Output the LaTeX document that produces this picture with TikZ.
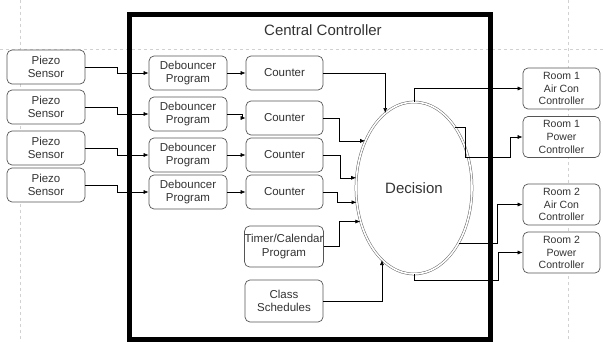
\documentclass[tikz,border=0pt]{standalone}
\usepackage{fontspec}
\setmainfont{Liberation Sans}
\usetikzlibrary{arrows.meta,shapes.geometric}
\definecolor{txt}{HTML}{333333}
\definecolor{brd}{HTML}{555555}
\begin{document}
\begin{tikzpicture}[x=1pt,y=-1pt,
  box/.style={draw=brd, line width=0.7pt, rounded corners=5pt, fill=white,
    align=center, text=txt, inner sep=0pt,
    font=\fontsize{11.5}{13.5}\selectfont},
  smallbox/.style={box, minimum width=77pt, minimum height=41pt,
    font=\fontsize{10.5}{12.8}\selectfont},
  conn/.style={draw=black, line width=0.6pt, -{Latex[length=5pt,width=4pt]}},
  pagebreak/.style={draw=black!18, line width=0.5pt, dash pattern=on 3pt off 3pt}
]
\useasboundingbox (0,0) rectangle (603,342);
% page break guides
\draw[pagebreak] (0,49) -- (603,49);
\draw[pagebreak] (20,0) -- (20,342);
\draw[pagebreak] (568,0) -- (568,342);

% central controller
\node[draw=black, line width=5pt, minimum width=361pt, minimum height=324.5pt, inner sep=0pt] (ctrl) at (310,177.25) {};
\node[text=txt, font=\fontsize{15}{18}\selectfont] (title) at (323,30) {Central Controller};

% sensors
\foreach \i/\y in {1/67,2/107,3/148,4/185}{
  \node[box, minimum width=78pt, minimum height=34pt] (s\i) at (46,\y) {Piezo\\Sensor};
}
% debouncers
\foreach \i/\y in {1/73,2/114,3/155,4/192}{
  \node[box, minimum width=78pt, minimum height=34pt] (d\i) at (188,\y) {Debouncer\\Program};
}
% counters
\foreach \i/\y in {1/73,2/118,3/155,4/192}{
  \node[box, minimum width=77pt, minimum height=34pt] (c\i) at (284.5,\y) {Counter};
}
\node[box, minimum width=78pt, minimum height=41pt] (tim) at (284,246.5) {Timer/Calendar\\Program};
\node[box, minimum width=78pt, minimum height=42pt] (cls) at (284,301) {Class\\Schedules};

% decision
\node[ellipse, draw=black!60, line width=0.5pt, double, double distance=1.6pt, fill=white,
  minimum width=116pt, minimum height=172pt, inner sep=0pt, text=txt,
  font=\fontsize{15}{18}\selectfont] (dec) at (414,188) {Decision};

% rooms
\node[smallbox] (r1a) at (561.5,88.5) {Room 1\\Air Con\\Controller};
\node[smallbox] (r1p) at (561.5,137) {Room 1\\Power\\Controller};
\node[smallbox] (r2a) at (561.5,204.5) {Room 2\\Air Con\\Controller};
\node[smallbox] (r2p) at (561.5,252.5) {Room 2\\Power\\Controller};

% sensor -> debouncer
\foreach \i in {1,2,3,4}{
  \draw[conn] (s\i.east) -- ++(32,0) |- (d\i.west);
}
% debouncer -> counter
\draw[conn] (d1.east) -- (c1.west);
\draw[conn] (d2.east) -- ++(15,0) |- (c2.west);
\draw[conn] (d3.east) -- (c3.west);
\draw[conn] (d4.east) -- (c4.west);

% counters -> decision
\draw[conn] (c1.east) -| (dec.111);
\draw[conn] (c2.east) -- ++(16,0) |- (dec.136);
\draw[conn] (c3.east) -- ++(17,0) |- (dec.170);
\draw[conn] (c4.east) -- ++(14,0) |- (dec.194);
\draw[conn] (tim.east) -- ++(16,0) |- (dec.212);
\draw[conn] (cls.east) -| (dec.246);

% decision -> rooms
\draw[conn] (dec.north) |- (r1a.west);
\draw[conn] (dec.56) -- ++(10,0) -- ++(0,30) -- ++(45,0) |- (r1p.west);
\draw[conn] (dec.-51) -- ++(39,0) |- (r2a.west);
\draw[conn] (dec.south) -- ++(0,6) -- ++(84,0) |- (r2p.west);
\end{tikzpicture}
\end{document}
